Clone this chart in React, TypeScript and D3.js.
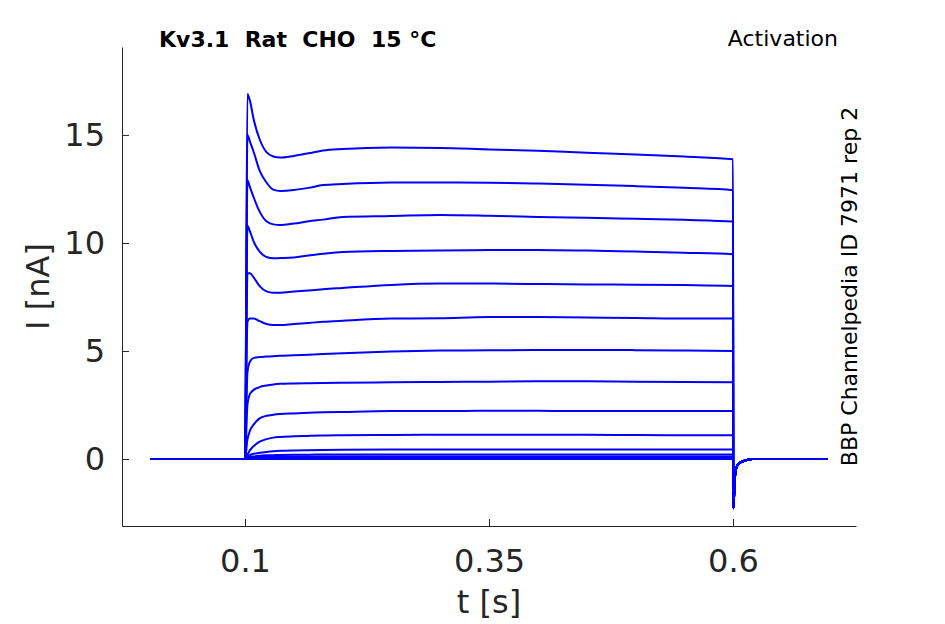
import React, { useEffect, useRef } from "react";
import * as d3 from "d3";

// ─── Data ─────────────────────────────────────────────────────────────────────
const X_TICKS = [0.1, 0.35, 0.6];
const Y_TICKS = [0, 5, 10, 15];

// holding level before the step (s)
const PRE_T = [0.003, 0.1];
const PRE_I = [0, 0];

// sample times during the voltage step (s)
const STEP_T = [
  0.1025, 0.105, 0.109, 0.115, 0.122, 0.129, 0.136, 0.15, 0.165, 0.18, 0.2, 0.25,
  0.3, 0.35, 0.4, 0.45, 0.5, 0.55, 0.6,
];

// current for each sweep at STEP_T (nA), largest first
const SWEEPS: number[][] = [
  [16.9, 16.6, 15.7, 14.8, 14.2, 14.0, 13.95, 14.03, 14.15, 14.28, 14.35, 14.42, 14.4, 14.33, 14.27, 14.18, 14.1, 14.0, 13.88],
  [15.0, 14.7, 14.2, 13.35, 12.8, 12.47, 12.41, 12.45, 12.55, 12.68, 12.73, 12.8, 12.8, 12.79, 12.75, 12.7, 12.63, 12.55, 12.44],
  [12.9, 12.6, 12.1, 11.45, 11.0, 10.86, 10.83, 10.9, 11.0, 11.08, 11.2, 11.25, 11.3, 11.26, 11.2, 11.17, 11.12, 11.07, 10.99],
  [10.8, 10.55, 10.05, 9.6, 9.35, 9.29, 9.3, 9.33, 9.42, 9.5, 9.58, 9.63, 9.65, 9.67, 9.68, 9.65, 9.6, 9.55, 9.48],
  [8.6, 8.6, 8.4, 8.0, 7.76, 7.7, 7.7, 7.75, 7.8, 7.86, 7.92, 8.06, 8.12, 8.12, 8.1, 8.08, 8.07, 8.05, 8.01],
  [6.35, 6.5, 6.5, 6.38, 6.25, 6.2, 6.2, 6.25, 6.3, 6.35, 6.4, 6.5, 6.52, 6.57, 6.57, 6.55, 6.53, 6.5, 6.5],
  [4.0, 4.5, 4.68, 4.72, 4.74, 4.76, 4.78, 4.8, 4.83, 4.86, 4.9, 4.98, 5.02, 5.03, 5.05, 5.05, 5.04, 5.02, 5.0],
  [2.5, 3.0, 3.2, 3.33, 3.4, 3.45, 3.48, 3.5, 3.51, 3.52, 3.53, 3.55, 3.57, 3.58, 3.6, 3.6, 3.58, 3.57, 3.55],
  [0.9, 1.3, 1.6, 1.88, 2.0, 2.05, 2.08, 2.11, 2.14, 2.16, 2.18, 2.22, 2.22, 2.23, 2.23, 2.22, 2.22, 2.22, 2.22],
  [0.2, 0.4, 0.6, 0.8, 0.92, 0.99, 1.02, 1.05, 1.07, 1.09, 1.1, 1.11, 1.12, 1.12, 1.12, 1.12, 1.11, 1.1, 1.1],
  [0.1, 0.18, 0.24, 0.29, 0.33, 0.36, 0.38, 0.4, 0.41, 0.42, 0.43, 0.44, 0.44, 0.44, 0.44, 0.44, 0.44, 0.44, 0.44],
  [0.05, 0.09, 0.12, 0.15, 0.17, 0.18, 0.19, 0.2, 0.2, 0.21, 0.21, 0.21, 0.21, 0.21, 0.21, 0.21, 0.21, 0.21, 0.21],
  [0.03, 0.05, 0.07, 0.09, 0.1, 0.11, 0.11, 0.12, 0.12, 0.12, 0.12, 0.12, 0.12, 0.12, 0.12, 0.12, 0.12, 0.12, 0.12],
  [0.01, 0.02, 0.03, 0.04, 0.05, 0.05, 0.06, 0.06, 0.06, 0.06, 0.06, 0.06, 0.06, 0.06, 0.06, 0.06, 0.06, 0.06, 0.06],
  [0, 0.01, 0.01, 0.01, 0.02, 0.02, 0.02, 0.02, 0.02, 0.02, 0.02, 0.02, 0.02, 0.02, 0.02, 0.02, 0.02, 0.02, 0.02],
  [0, 0, 0, 0, 0, 0, 0, 0, 0, 0, 0, 0, 0, 0, 0, 0, 0, 0, 0],
];

// tail after the step (shared envelope of all sweeps)
const TAIL_T = [0.6003, 0.602, 0.6037, 0.607, 0.614, 0.62, 0.697];
const TAIL_I = [-2.28, -0.82, -0.36, -0.17, -0.05, 0, 0];

// ─── Design tokens ────────────────────────────────────────────────────────────
const W = 945;
const H = 624;
const PLOT = { left: 122, right: 856, top: 47, bottom: 526 };
const TRACE = "#0000ff";
const AXIS = "#262626";
const FONT = "'DejaVu Sans', sans-serif";

type Pt = [number, number];

export default function App() {
  const svgRef = useRef<SVGSVGElement>(null);

  useEffect(() => {
    const node = svgRef.current;
    if (!node) return;
    const svg = d3.select(node);
    svg.selectAll("*").remove();

    const x = d3.scaleLinear().domain([-0.026, 0.726]).range([PLOT.left, PLOT.right]);
    const y = d3.scaleLinear().domain([-3.1, 19.07]).range([PLOT.bottom, PLOT.top]);

    // ── Sweeps ─────────────────────────────────────────────────────────────
    const line = d3
      .line<Pt>()
      .x((d) => x(d[0]))
      .y((d) => y(d[1]))
      .curve(d3.curveMonotoneX);

    const sweeps: Pt[][] = SWEEPS.map((vals) => [
      ...PRE_T.map((t, i) => [t, PRE_I[i]] as Pt),
      ...STEP_T.map((t, i) => [t, vals[i]] as Pt),
      ...TAIL_T.map((t, i) => [t, TAIL_I[i]] as Pt),
    ]);

    svg
      .append("g")
      .selectAll("path")
      .data(sweeps)
      .join("path")
      .attr("d", (d) => line(d))
      .attr("fill", "none")
      .attr("stroke", TRACE)
      .attr("stroke-width", 2)
      .attr("stroke-linejoin", "round");

    // ── Axes (inward ticks, no box) ────────────────────────────────────────
    const xAxis = svg
      .append("g")
      .attr("transform", `translate(0,${PLOT.bottom})`)
      .call(
        d3
          .axisBottom(x)
          .tickValues(X_TICKS)
          .tickFormat((d) => String(d))
          .tickSizeInner(-7)
          .tickSizeOuter(0)
          .tickPadding(23),
      );

    const yAxis = svg
      .append("g")
      .attr("transform", `translate(${PLOT.left},0)`)
      .call(
        d3
          .axisLeft(y)
          .tickValues(Y_TICKS)
          .tickFormat((d) => String(d))
          .tickSizeInner(-7)
          .tickSizeOuter(0)
          .tickPadding(17),
      );

    for (const ax of [xAxis, yAxis]) {
      ax.select(".domain").attr("stroke", AXIS).attr("stroke-width", 1);
      ax.selectAll(".tick line").attr("stroke", AXIS).attr("stroke-width", 1);
      ax.selectAll("text")
        .attr("fill", AXIS)
        .attr("font-size", 32)
        .attr("font-family", FONT);
    }

    // ── Labels ─────────────────────────────────────────────────────────────
    svg
      .append("text")
      .attr("x", (PLOT.left + PLOT.right) / 2)
      .attr("y", 613)
      .attr("text-anchor", "middle")
      .attr("fill", AXIS)
      .attr("font-size", 32)
      .attr("font-family", FONT)
      .text("t [s]");

    svg
      .append("text")
      .attr("transform", `translate(49,${(PLOT.top + PLOT.bottom) / 2}) rotate(-90)`)
      .attr("text-anchor", "middle")
      .attr("fill", AXIS)
      .attr("font-size", 32)
      .attr("font-family", FONT)
      .text("I [nA]");

    svg
      .append("text")
      .attr("x", 159)
      .attr("y", 46.5)
      .attr("fill", "#000")
      .attr("font-size", 22)
      .attr("font-weight", "bold")
      .attr("font-family", FONT)
      .style("white-space", "pre")
      .text("Kv3.1  Rat  CHO  15 °C");

    svg
      .append("text")
      .attr("x", 838)
      .attr("y", 46)
      .attr("text-anchor", "end")
      .attr("fill", "#000")
      .attr("font-size", 22)
      .attr("font-family", FONT)
      .text("Activation");

    svg
      .append("text")
      .attr("transform", `translate(857,${(PLOT.top + PLOT.bottom) / 2}) rotate(-90)`)
      .attr("text-anchor", "middle")
      .attr("fill", "#000")
      .attr("font-size", 22)
      .attr("font-family", FONT)
      .text("BBP Channelpedia ID 7971 rep 2");
  }, []);

  return (
    <svg
      ref={svgRef}
      width={W}
      height={H}
      style={{ position: "absolute", left: 0, top: 0, background: "#fff" }}
    />
  );
}
